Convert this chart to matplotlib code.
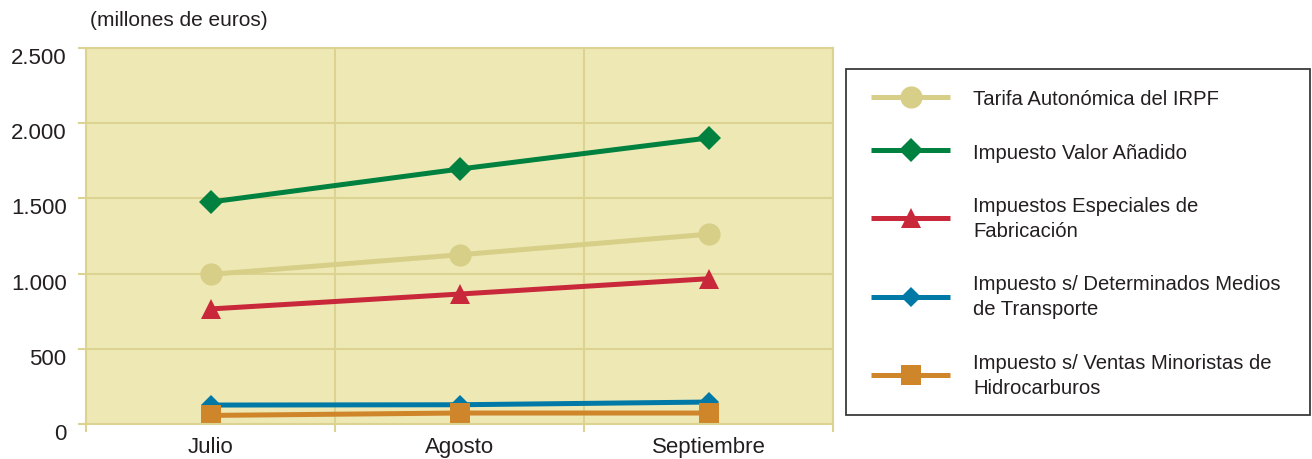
import matplotlib

matplotlib.use("Agg")
import matplotlib.pyplot as plt
import matplotlib.transforms as mtrans
from matplotlib.patches import Rectangle

# data (millones de euros)
months = ["Julio", "Agosto", "Septiembre"]
tarifa_irpf = [995, 1125, 1262]
iva = [1476, 1695, 1902]
especiales = [765, 864, 966]
medios_transporte = [126, 128, 146]
hidrocarburos = [57, 73, 73]

series_labels = [
    "Tarifa Autonómica del IRPF",
    "Impuesto Valor Añadido",
    "Impuestos Especiales de\nFabricación",
    "Impuesto s/ Determinados Medios\nde Transporte",
    "Impuesto s/ Ventas Minoristas de\nHidrocarburos",
]
y_ticks = [0, 500, 1000, 1500, 2000, 2500]

TEXT = "#231f20"
BG = "#eee8b4"
GRID = "#dcd392"
FONT = ["Liberation Sans", "DejaVu Sans"]

W, H = 1312, 460
fig = plt.figure(figsize=(W / 100, H / 100), dpi=100)
ax = fig.add_axes([86 / W, 1 - 425 / H, (833 - 86) / W, (425 - 49) / H])
ax.set_facecolor(BG)

x = [i + 0.5 for i in range(len(months))]

styles = [
    (tarifa_irpf, "#d7cf88", "o", 16),
    (iva, "#00813f", "D", 12),
    (especiales, "#c8283a", "^", 15),
    (medios_transporte, "#0079a6", "D", 10),
    (hidrocarburos, "#cf862b", "s", 15),
]
for (vals, color, marker, ms), label in zip(styles, series_labels):
    ax.plot(x, vals, color=color, lw=3.6, marker=marker, markersize=ms,
            markeredgewidth=0, label=label, solid_capstyle="butt", clip_on=False)

ax.set_xlim(0, 3)
ax.set_ylim(0, 2500)
ax.set_yticks(y_ticks)
ax.set_yticklabels([f"{v:,.0f}".replace(",", ".") for v in y_ticks],
                   family=FONT, fontsize=16, color=TEXT)
ax.set_xticks([0, 1, 2, 3])
ax.set_xticklabels([])
ax.set_xticks(x, minor=True)
ax.set_xticklabels(months, minor=True, family=FONT, fontsize=16, color=TEXT)
ax.tick_params(axis="x", which="minor", length=0, pad=9)
ax.tick_params(axis="x", which="major", length=6, width=1.5, color=GRID)
ax.tick_params(axis="y", length=6, width=1.5, color=GRID, pad=8)

offset = mtrans.ScaledTranslation(0, -5 / 72, fig.dpi_scale_trans)
for lab in ax.get_yticklabels():
    lab.set_transform(lab.get_transform() + offset)

ax.grid(True, which="major", color=GRID, lw=1.5)
ax.set_axisbelow(True)
for sp in ax.spines.values():
    sp.set_color(GRID)
    sp.set_linewidth(1.5)

fig.text(90 / W, 1 - 20 / H, "(millones de euros)", family=FONT,
         fontsize=15, color=TEXT, va="center", ha="left")

# legend box
fig.patches.append(Rectangle((846 / W, 1 - 416 / H), (1310 - 846) / W, (416 - 70) / H,
                             transform=fig.transFigure, fill=False,
                             edgecolor="#3a3a3a", lw=1.3))
leg = fig.legend(loc="center left", bbox_to_anchor=(871 / W, 1 - 244 / H),
                 frameon=False, borderpad=0, borderaxespad=0, handlelength=3.9,
                 handletextpad=1.15, labelspacing=1.7,
                 prop={"family": FONT, "size": 14.6})
for t in leg.get_texts():
    t.set_color(TEXT)
    t.set_linespacing(1.4)

fig.savefig("out.png", dpi=100)
